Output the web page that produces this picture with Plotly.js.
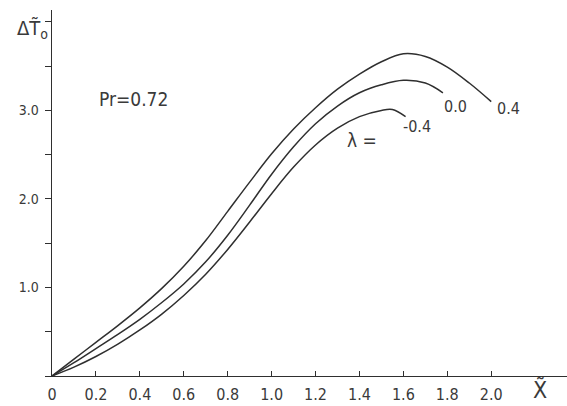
<!DOCTYPE html>
<html>
<head>
<meta charset="utf-8">
<script src="https://cdn.plot.ly/plotly-3.0.1.min.js"></script>
<style>html,body{margin:0;padding:0;background:#fff;}#chart{width:567px;height:406px;}</style>
</head>
<body>
<div id="chart"></div>
<script>
// Data
const xTop = [0, 0.1, 0.2, 0.3, 0.4, 0.5, 0.6, 0.7, 0.8, 0.9, 1.0, 1.1, 1.2, 1.3, 1.4, 1.5, 1.6, 1.7, 1.8, 1.9, 2.0];
const yTop = [0, 0.19, 0.38, 0.57, 0.77, 0.99, 1.24, 1.53, 1.86, 2.19, 2.51, 2.79, 3.03, 3.24, 3.41, 3.55, 3.64, 3.61, 3.49, 3.31, 3.10];
const xMid = [0, 0.1, 0.2, 0.3, 0.4, 0.5, 0.6, 0.7, 0.8, 0.9, 1.0, 1.1, 1.2, 1.3, 1.4, 1.5, 1.6, 1.7, 1.78];
const yMid = [0, 0.15, 0.31, 0.47, 0.64, 0.83, 1.04, 1.29, 1.59, 1.93, 2.28, 2.59, 2.85, 3.05, 3.20, 3.29, 3.34, 3.31, 3.20];
const xBot = [0, 0.1, 0.2, 0.3, 0.4, 0.5, 0.6, 0.7, 0.8, 0.9, 1.0, 1.1, 1.2, 1.3, 1.4, 1.5, 1.55, 1.61];
const yBot = [0, 0.10, 0.22, 0.36, 0.52, 0.70, 0.91, 1.15, 1.43, 1.74, 2.06, 2.36, 2.61, 2.80, 2.93, 3.00, 3.01, 2.93];
const lambdaLabels = ["0.4", "0.0", "-0.4"];
const xTickVals = [0, 0.2, 0.4, 0.6, 0.8, 1.0, 1.2, 1.4, 1.6, 1.8, 2.0];
const xTickText = ["0", "0.2", "0.4", "0.6", "0.8", "1.0", "1.2", "1.4", "1.6", "1.8", "2.0"];
const yTickVals = [1.0, 2.0, 3.0];
const yTickText = ["1.0", "2.0", "3.0"];

const FONT = "DejaVu Sans Condensed, DejaVu Sans, sans-serif";
const INK = "#2f2f2f";
const line = {color: INK, width: 1.5, shape: "spline", smoothing: 1.0};

const traces = [
  {x: xTop, y: yTop, name: lambdaLabels[0], mode: "lines", line: line, hoverinfo: "skip"},
  {x: xMid, y: yMid, name: lambdaLabels[1], mode: "lines", line: line, hoverinfo: "skip"},
  {x: xBot, y: yBot, name: lambdaLabels[2], mode: "lines", line: line, hoverinfo: "skip"}
];

const txt = (size) => ({family: FONT, size: size, color: "#3a3a3a"});

const layout = {
  width: 567, height: 406,
  margin: {l: 52, r: 0, t: 10, b: 30},
  paper_bgcolor: "#ffffff", plot_bgcolor: "#ffffff",
  showlegend: false,
  xaxis: {
    range: [0, 2.345], showgrid: false, zeroline: false,
    showline: true, linecolor: INK, linewidth: 1.4,
    tickvals: xTickVals, ticktext: xTickText,
    ticks: "inside", ticklen: 5, tickcolor: INK, tickwidth: 1,
    tickfont: txt(16), ticklabelstandoff: 3
  },
  yaxis: {
    range: [0, 4.135], showgrid: false, zeroline: false,
    showline: true, linecolor: INK, linewidth: 1.4,
    tickvals: yTickVals, ticktext: yTickText,
    ticks: "outside", ticklen: 6, tickcolor: INK, tickwidth: 1,
    minor: {dtick: 0.5, tick0: 0, ticks: "outside", ticklen: 6, tickcolor: INK, tickwidth: 1, showgrid: false},
    tickfont: txt(14), ticklabelstandoff: 3
  },
  annotations: [
    {x: 2.08, y: 3.02, xref: "x", yref: "y", text: lambdaLabels[0], showarrow: false, font: txt(16)},
    {x: 1.835, y: 3.05, xref: "x", yref: "y", text: lambdaLabels[1], showarrow: false, font: txt(16)},
    {x: 1.66, y: 2.82, xref: "x", yref: "y", text: lambdaLabels[2], showarrow: false, font: txt(16)},
    {x: 1.41, y: 2.67, xref: "x", yref: "y", text: "λ =", showarrow: false, font: txt(19)},
    {x: 0.369, y: 3.13, xref: "x", yref: "y", text: "Pr=0.72", showarrow: false, font: txt(19)},
    {x: 0.965, y: -0.08, xref: "paper", yref: "paper", text: "X\u0303", showarrow: false, font: txt(23)},
    {x: -0.072, y: 0.99, xref: "paper", yref: "paper", text: "\u0394T\u0303<sub>o</sub>", showarrow: false, font: txt(20)}
  ]
};

Plotly.newPlot("chart", traces, layout, {staticPlot: true, displayModeBar: false});
</script>
</body>
</html>
